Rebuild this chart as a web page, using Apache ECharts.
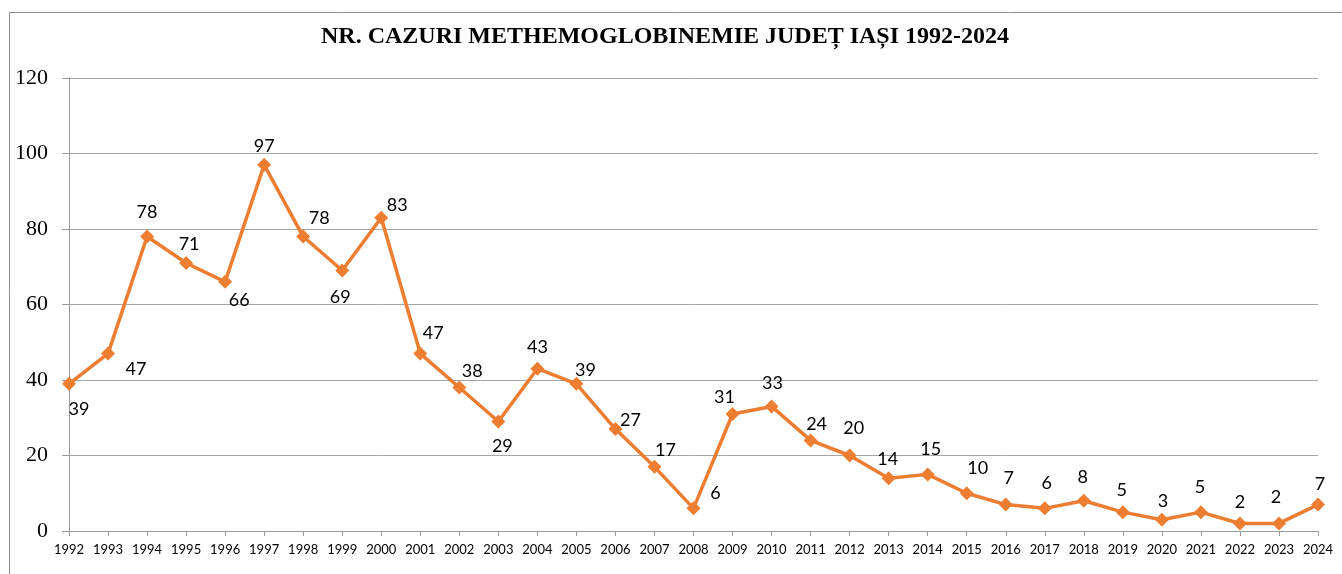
<!DOCTYPE html>
<html>
<head>
<meta charset="utf-8">
<script src="https://cdn.jsdelivr.net/npm/echarts@6/dist/echarts.min.js"></script>
<style>
html, body { margin: 0; padding: 0; background: #fff; }
#chart { width: 1342px; height: 574px; }
</style>
</head>
<body>
<div id="chart"></div>
<script>
var years = ['1992','1993','1994','1995','1996','1997','1998','1999','2000','2001','2002',
    '2003','2004','2005','2006','2007','2008','2009','2010','2011','2012','2013','2014',
    '2015','2016','2017','2018','2019','2020','2021','2022','2023','2024'];
var cases = [39, 47, 78, 71, 66, 97, 78, 69, 83, 47, 38, 29, 43, 39, 27, 17, 6, 31, 33, 24,
    20, 14, 15, 10, 7, 6, 8, 5, 3, 5, 2, 2, 7];
var yTicks = [0, 20, 40, 60, 80, 100, 120];

// label offsets (label centre relative to the marker), like Excel's hand-moved labels
var labelShift = [[10,25],[28,16],[0,-24],[3,-19],[14,18],[0,-19],[16,-18],[-2,27],[16,-12],
    [13,-20],[13,-16],[4,25],[0,-21],[9,-14],[15,-9],[11,-17],[22,-15],[-8,-17],[1,-23],
    [6,-16],[4,-27],[-1,-19],[3,-25],[11,-25],[3,-26],[2,-25],[-1,-24],[-1,-22],[1,-18],
    [-1,-25],[0,-21],[-3,-26],[2,-20]];

var myChart = echarts.init(document.getElementById('chart'));

var data = [];
for (var i = 0; i < cases.length; i++) {
    data.push({
        value: cases[i],
        label: { offset: labelShift[i] }
    });
}

var option = {
    animation: false,
    backgroundColor: '#fff',
    title: {
        text: 'NR. CAZURI METHEMOGLOBINEMIE JUDEȚ IAȘI 1992-2024',
        left: 660,
        top: 20,
        textAlign: 'center',
        textStyle: {
            fontFamily: 'Liberation Serif',
            fontWeight: 'bold',
            fontSize: 24,
            color: '#000'
        }
    },
    graphic: [{
        type: 'rect',
        shape: { x: 9.5, y: 12.5, width: 1400, height: 700 },
        style: { fill: null, stroke: '#8c8c8c', lineWidth: 1 },
        silent: true
    }],
    grid: { left: 69, right: 24, top: 78, bottom: 43 },
    xAxis: {
        type: 'category',
        data: years,
        boundaryGap: false,
        axisLine: { lineStyle: { color: '#9a9a9a', width: 1 } },
        axisTick: { show: true, alignWithLabel: true, length: 5, lineStyle: { color: '#9a9a9a' } },
        axisLabel: {
            interval: 0,
            margin: 12,
            fontFamily: 'Lato',
            fontSize: 13,
            color: '#000'
        },
        splitLine: { show: false }
    },
    yAxis: {
        type: 'value',
        min: yTicks[0],
        max: yTicks[yTicks.length - 1],
        interval: 20,
        axisLine: { show: true, lineStyle: { color: '#9a9a9a', width: 1 } },
        axisTick: { show: true, length: 7, lineStyle: { color: '#9a9a9a' } },
        axisLabel: {
            margin: 21,
            fontFamily: 'Liberation Serif',
            fontSize: 22,
            color: '#000'
        },
        splitLine: { lineStyle: { color: '#a6a6a6', width: 1 } }
    },
    series: [{
        type: 'line',
        data: data,
        symbol: 'diamond',
        symbolSize: 14,
        lineStyle: { color: '#ed7d31', width: 3.5 },
        itemStyle: { color: '#ed7d31' },
        label: {
            show: true,
            position: 'inside',
            align: 'center',
            verticalAlign: 'middle',
            fontFamily: 'Lato',
            fontSize: 18,
            color: '#000'
        }
    }]
};

myChart.setOption(option);
window.onresize = myChart.resize;
</script>
</body>
</html>
